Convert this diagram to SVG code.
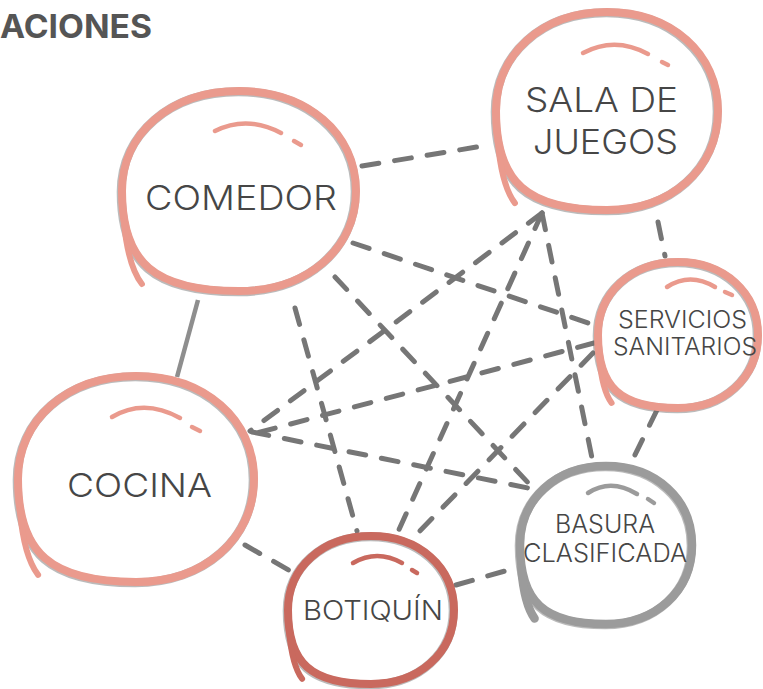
<svg xmlns="http://www.w3.org/2000/svg" width="763" height="689" viewBox="0 0 763 689">
<style>
.bg{fill:#ffffff}
.edge{fill:none;stroke:#767676;stroke-width:5;stroke-linecap:round;stroke-dasharray:17 16}
.solid{fill:none;stroke:#8e8e8e;stroke-width:4.5}
.shadow{fill:#ffffff;stroke:#6a6a6a;stroke-width:9;opacity:0.45}
.ring{fill:none;stroke:#ea9a8d;stroke-width:8;stroke-linecap:round}
.ring.dark{stroke:#c9695e}
.ring.grey{stroke:#9b9b9b;stroke-width:8.5}
.tail{stroke-width:6}
.hl{fill:none;stroke:#ea9a8d;stroke-width:4.5;stroke-linecap:round}
.hl.dark{stroke:#c9695e}
.hl.grey{stroke:#9b9b9b}
.lbl{font-family:Inter,"Noto Sans","DejaVu Sans",sans-serif;font-weight:300;fill:#464646;text-anchor:middle}
.title{font-family:Inter,"Noto Sans","DejaVu Sans",sans-serif;font-weight:700;fill:#555555}
</style>
<rect class="bg" x="0" y="0" width="763" height="689"/>
<text class="title" x="0" y="38" font-size="32" textLength="152" lengthAdjust="spacingAndGlyphs">ACIONES</text>
<g id="connectors">
<path class="edge" d="M362,166 L483,146"/>
<path class="solid" d="M198,300 L177,377"/>
<path class="edge" d="M658,222 L665,256"/>
<path class="edge" d="M657,410 L630,465"/>
<path class="edge" d="M456,585 L519,567"/>
<path class="edge" d="M245,545 L292,572"/>
<path class="edge" d="M353,243 L597,326"/>
<path class="edge" d="M335,277 L533,488"/>
<path class="edge" d="M295,308 L357,531"/>
<path class="edge" d="M542,213 L250,431"/>
<path class="edge" d="M542,213 L397,534"/>
<path class="edge" d="M542,213 L592,458"/>
<path class="edge" d="M594,343 L253,434"/>
<path class="edge" d="M593,353 L413,538"/>
<path class="edge" d="M252,432 L533,489"/>
</g>
<g id="comedor">
<path class="shadow" transform="translate(-0.8,0.8)" d="M356,191 C356,249 306.9,291 239,291 C154.8,291 122,263 122,191 C122,133 171.1,91 239,91 C306.9,91 356,133 356,191 Z"/>
<path class="ring" d="M356,191 C356,249 306.9,291 239,291 C154.8,291 122,263 122,191 C122,133 171.1,91 239,91 C306.9,91 356,133 356,191 Z"/>
<path class="ring tail" d="M123.8,221 Q127.9,266 141.9,284"/>
<path class="hl" d="M215,131 Q247,115 281,133"/>
<path class="hl" d="M294,141 L301,145"/>
<text class="lbl" x="241" y="210" font-size="34" textLength="192" lengthAdjust="spacingAndGlyphs">COMEDOR</text>
</g>
<g id="sala">
<path class="shadow" transform="translate(-0.8,0.8)" d="M718,111 C718,168.4 671.4,210 607,210 C527.1,210 496,182.3 496,111 C496,53.6 542.6,12 607,12 C671.4,12 718,53.6 718,111 Z"/>
<path class="ring" d="M718,111 C718,168.4 671.4,210 607,210 C527.1,210 496,182.3 496,111 C496,53.6 542.6,12 607,12 C671.4,12 718,53.6 718,111 Z"/>
<path class="ring tail" d="M497.7,140.7 Q501.5,185.3 514.9,203.1"/>
<path class="hl" d="M583,53 Q615,36 648,54"/>
<path class="hl" d="M662,62 L668,65"/>
<text class="lbl" x="601.5" y="112" font-size="34" textLength="153" lengthAdjust="spacingAndGlyphs">SALA DE</text>
<text class="lbl" x="605.5" y="154" font-size="34" textLength="145" lengthAdjust="spacingAndGlyphs">JUEGOS</text>
</g>
<g id="servicios">
<path class="shadow" transform="translate(-0.8,0.8)" d="M758,335 C758,377.3 724.4,408 678,408 C620.4,408 598,387.6 598,335 C598,292.7 631.6,262 678,262 C724.4,262 758,292.7 758,335 Z"/>
<path class="ring" d="M758,335 C758,377.3 724.4,408 678,408 C620.4,408 598,387.6 598,335 C598,292.7 631.6,262 678,262 C724.4,262 758,292.7 758,335 Z"/>
<path class="ring tail" d="M599.2,356.9 Q602,389.8 611.6,402.9"/>
<path class="hl" d="M667,287 Q690,272 715,287"/>
<path class="hl" d="M725,292 L732,295"/>
<text class="lbl" x="682.5" y="328" font-size="23.5" textLength="129" lengthAdjust="spacingAndGlyphs">SERVICIOS</text>
<text class="lbl" x="685" y="355" font-size="23.5" textLength="144" lengthAdjust="spacingAndGlyphs">SANITARIOS</text>
</g>
<g id="cocina">
<path class="shadow" transform="translate(-0.8,0.8)" d="M254,479 C254,538.7 204.4,582 136,582 C51,582 18,553.2 18,479 C18,419.3 67.6,376 136,376 C204.4,376 254,419.3 254,479 Z"/>
<path class="ring" d="M254,479 C254,538.7 204.4,582 136,582 C51,582 18,553.2 18,479 C18,419.3 67.6,376 136,376 C204.4,376 254,419.3 254,479 Z"/>
<path class="ring tail" d="M19.8,509.9 Q23.9,556.3 38.1,574.8"/>
<path class="hl" d="M112,417 Q144,398 180,418"/>
<path class="hl" d="M192,427 L200,431"/>
<text class="lbl" x="139.5" y="497" font-size="33" textLength="145" lengthAdjust="spacingAndGlyphs">COCINA</text>
</g>
<g id="botiquin">
<path class="shadow" transform="translate(-0.8,0.8)" d="M454,610 C454,652.9 419.1,684 371,684 C311.2,684 288,663.3 288,610 C288,567.1 322.9,536 371,536 C419.1,536 454,567.1 454,610 Z"/>
<path class="ring dark" d="M454,610 C454,652.9 419.1,684 371,684 C311.2,684 288,663.3 288,610 C288,567.1 322.9,536 371,536 C419.1,536 454,567.1 454,610 Z"/>
<path class="ring dark tail" d="M289.2,632.2 Q292.2,665.5 302.1,678.8"/>
<path class="hl dark" d="M353,563 Q377,549 402,563"/>
<path class="hl dark" d="M412,570 L417,573"/>
<text class="lbl" x="373" y="620" font-size="27.5" textLength="140" lengthAdjust="spacingAndGlyphs">BOTIQUÍN</text>
</g>
<g id="basura">
<path class="shadow" transform="translate(-0.8,0.8)" d="M692,545 C692,590.8 655.9,624 606,624 C544.1,624 520,601.9 520,545 C520,499.2 556.1,466 606,466 C655.9,466 692,499.2 692,545 Z"/>
<path class="ring grey" d="M692,545 C692,590.8 655.9,624 606,624 C544.1,624 520,601.9 520,545 C520,499.2 556.1,466 606,466 C655.9,466 692,499.2 692,545 Z"/>
<path class="ring grey tail" d="M521.3,568.7 Q524.3,604.3 534.6,618.5"/>
<path class="hl grey" d="M588,493 Q611,478 637,494"/>
<path class="hl grey" d="M648,499 L654,503"/>
<text class="lbl" x="605" y="533" font-size="25" textLength="100" lengthAdjust="spacingAndGlyphs">BASURA</text>
<text class="lbl" x="605" y="562" font-size="25" textLength="164" lengthAdjust="spacingAndGlyphs">CLASIFICADA</text>
</g>
</svg>
